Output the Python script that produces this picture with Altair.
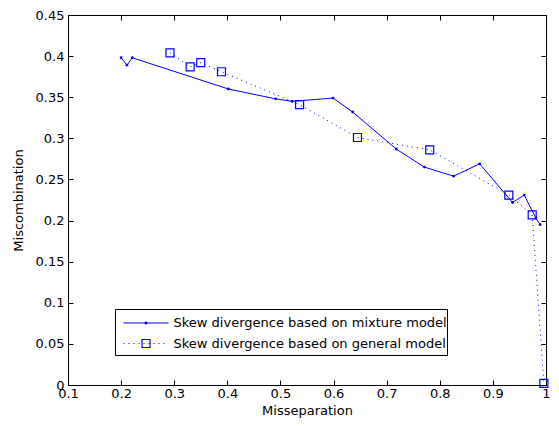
import altair as alt
import pandas as pd

# Series: skew divergence based on mixture model (solid line, dots)
mix_x = [0.200, 0.211, 0.221, 0.402, 0.491, 0.522, 0.599, 0.636, 0.718,
         0.771, 0.826, 0.875, 0.937, 0.959, 0.981, 0.989]
mix_y = [0.398, 0.389, 0.398, 0.360, 0.348, 0.345, 0.349, 0.332, 0.287,
         0.265, 0.254, 0.269, 0.222, 0.231, 0.203, 0.195]
# Series: skew divergence based on general model (dotted line, squares)
gen_x = [0.292, 0.330, 0.350, 0.389, 0.536, 0.645, 0.781, 0.930, 0.974, 0.996]
gen_y = [0.404, 0.387, 0.392, 0.381, 0.341, 0.301, 0.286, 0.231, 0.207, 0.002]

x_ticks = [0.1, 0.2, 0.3, 0.4, 0.5, 0.6, 0.7, 0.8, 0.9, 1.0]
y_ticks = [0, 0.05, 0.1, 0.15, 0.2, 0.25, 0.3, 0.35, 0.4, 0.45]

legend_labels = ["Skew divergence based on mixture model",
                 "Skew divergence based on general model"]

FONT = "DejaVu Sans"
BLUE = "#0000ff"

mix = pd.DataFrame({"x": mix_x, "y": mix_y, "i": range(len(mix_x))})
gen = pd.DataFrame({"x": gen_x, "y": gen_y, "i": range(len(gen_x))})

xscale = alt.Scale(domain=[0.1, 1.0], nice=False, zero=False)
yscale = alt.Scale(domain=[0, 0.45], nice=False, zero=False)

xaxis = alt.Axis(values=x_ticks, format="~g", title="Misseparation", orient="bottom",
                 grid=False, domain=False, offset=-5, tickSize=5, tickColor="black",
                 labelPadding=2, labelFlush=False, labelOverlap=False, titlePadding=4)
yaxis = alt.Axis(values=y_ticks, format="~g", title="Miscombination", orient="left",
                 grid=False, domain=False, offset=-5, tickSize=5, tickColor="black",
                 labelPadding=4, labelOverlap=False, titlePadding=10)

def enc(ch):
    return ch.encode(
        x=alt.X("x:Q", scale=xscale, axis=xaxis),
        y=alt.Y("y:Q", scale=yscale, axis=yaxis),
        order="i:Q",
    )

gen_line = enc(alt.Chart(gen).mark_line(color=BLUE, strokeWidth=1, strokeDash=[1, 4]))
gen_pts = enc(alt.Chart(gen).mark_point(shape="square", size=64, color=BLUE,
                                        filled=False, strokeWidth=1.2, opacity=1))
mix_line = enc(alt.Chart(mix).mark_line(color=BLUE, strokeWidth=1))
mix_pts = enc(alt.Chart(mix).mark_point(shape="circle", size=8, color=BLUE,
                                        filled=True, opacity=1))

# Legend (drawn manually, MATLAB style)
one = pd.DataFrame({"a": [0]})
leg_box = alt.Chart(one).mark_rect(fill="white", stroke="black", strokeWidth=1).encode(
    x=alt.value(47.5), x2=alt.value(379.5), y=alt.value(294.5), y2=alt.value(340.5))
leg_l1 = alt.Chart(one).mark_rule(color=BLUE, strokeWidth=1).encode(
    x=alt.value(55.5), x2=alt.value(100.5), y=alt.value(308))
leg_p1 = alt.Chart(one).mark_point(shape="circle", size=8, color=BLUE, filled=True, opacity=1).encode(
    x=alt.value(78), y=alt.value(308))
leg_l2 = alt.Chart(one).mark_rule(color=BLUE, strokeWidth=1, strokeDash=[1, 4]).encode(
    x=alt.value(55.5), x2=alt.value(100.5), y=alt.value(328.5))
leg_p2 = alt.Chart(one).mark_point(shape="square", size=64, color=BLUE, filled=False,
                                   strokeWidth=1.2, opacity=1).encode(
    x=alt.value(78), y=alt.value(328.5))
leg_df = pd.DataFrame({"label": legend_labels, "row": [0, 1]})
leg_t1 = alt.Chart(leg_df.iloc[[0]]).mark_text(align="left", baseline="middle", font=FONT,
                                               fontSize=13, color="black").encode(
    x=alt.value(105.5), y=alt.value(308), text="label:N")
leg_t2 = alt.Chart(leg_df.iloc[[1]]).mark_text(align="left", baseline="middle", font=FONT,
                                               fontSize=13, color="black").encode(
    x=alt.value(105.5), y=alt.value(328.5), text="label:N")

main = alt.layer(gen_line, gen_pts, mix_line, mix_pts,
                 leg_box, leg_l1, leg_p1, leg_l2, leg_p2, leg_t1, leg_t2)

# Mirror ticks on top and right edges (box style)
frame = alt.Chart(mix).mark_point(opacity=0).encode(
    x=alt.X("x:Q", scale=xscale,
            axis=alt.Axis(values=x_ticks, orient="top", labels=False, title=None,
                          grid=False, domain=False, offset=-5, tickSize=5, tickColor="black")),
    y=alt.Y("y:Q", scale=yscale,
            axis=alt.Axis(values=y_ticks, orient="right", labels=False, title=None,
                          grid=False, domain=False, offset=-5, tickSize=5, tickColor="black")),
)

chart = alt.layer(main, frame).resolve_axis(x="independent", y="independent").properties(
    width=478, height=370, autosize="none",
    padding={"left": 60, "top": 7, "right": 5, "bottom": 38},
).configure_view(stroke="black", strokeWidth=1).configure_axis(
    labelFont=FONT, labelFontSize=13, labelColor="black",
    titleFont=FONT, titleFontSize=13, titleColor="black", titleFontWeight="normal",
)

chart.save("out.html", embed_options={"renderer": "svg", "actions": False})
